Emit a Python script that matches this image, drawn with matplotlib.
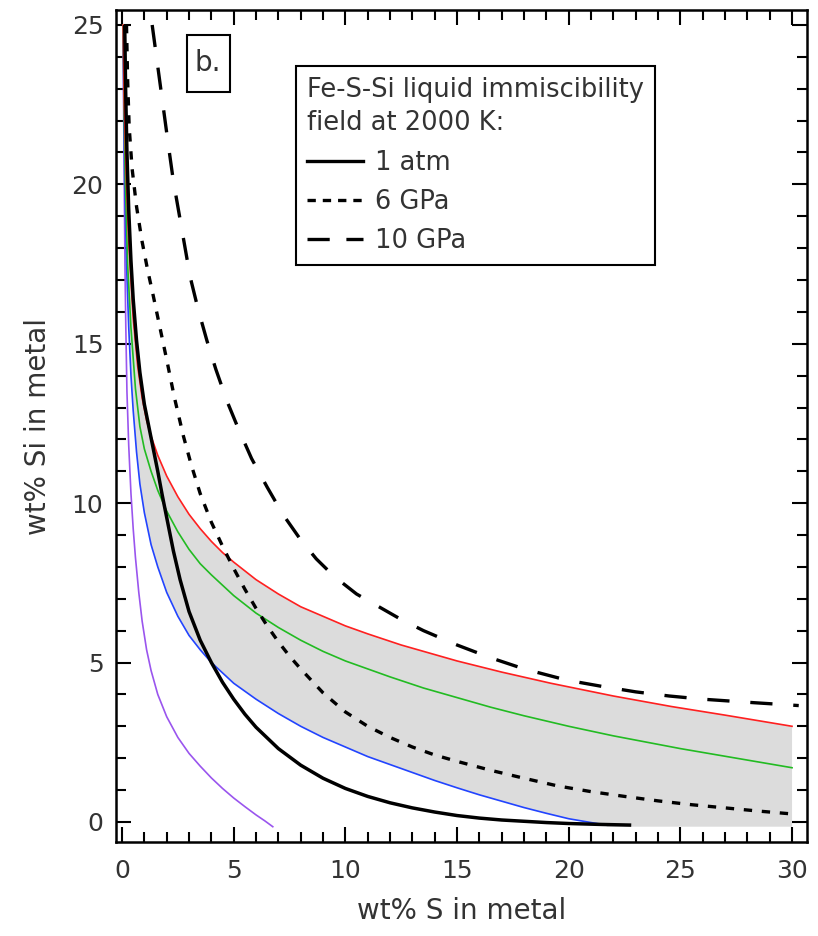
import matplotlib
matplotlib.use("Agg")
import matplotlib.pyplot as plt
from matplotlib.lines import Line2D
from matplotlib.patches import Rectangle
from matplotlib.ticker import MultipleLocator

plt.rcParams['font.family'] = ['DejaVu Sans']
plt.rcParams['lines.scale_dashes'] = False

# ---------------- data ----------------
atm1_x = [0.12, 0.16, 0.22, 0.3, 0.4, 0.5, 0.65, 0.8, 1.0, 1.2, 1.4, 1.6, 1.8, 2.0, 2.3, 2.6, 3.0,
          3.5, 4.0, 4.5, 5.0, 5.5, 6.0, 7.0, 8.0, 9.0, 10.0, 11.0, 12.0, 13.0, 14.0, 15.0, 16.0,
          17.0, 18.0, 19.0, 20.0, 21.5, 22.8]
atm1_y = [25.0, 23.0, 21.0, 19.2, 17.6, 16.4, 15.1, 14.1, 13.1, 12.4, 11.7, 11.0, 10.25, 9.55, 8.5,
          7.6, 6.6, 5.7, 5.0, 4.38, 3.85, 3.38, 2.97, 2.3, 1.78, 1.37, 1.05, 0.8, 0.6, 0.44, 0.31,
          0.2, 0.12, 0.06, 0.02, -0.02, -0.05, -0.08, -0.1]

gpa6_x = [0.2, 0.25, 0.32, 0.45, 0.65, 0.9, 1.15, 1.4, 1.7, 2.0, 2.35, 2.75, 3.1, 3.5, 4.0, 4.5,
          5.0, 5.5, 6.0, 6.5, 7.0, 7.5, 8.0, 9.0, 10.0, 11.0, 12.0, 13.0, 14.0, 15.0, 16.5, 18.0,
          19.5, 21.0, 22.5, 24.0, 25.5, 27.0, 28.5, 30.0]
gpa6_y = [25.0, 23.3, 21.8, 20.5, 19.3, 18.2, 17.3, 16.5, 15.5, 14.5, 13.3, 12.1, 11.2, 10.3, 9.4,
          8.65, 7.95, 7.3, 6.7, 6.15, 5.65, 5.2, 4.8, 4.05, 3.45, 3.0, 2.65, 2.35, 2.1, 1.9, 1.62,
          1.37, 1.13, 0.95, 0.8, 0.66, 0.54, 0.44, 0.34, 0.25]

gpa10_x = [1.35, 1.6, 1.85, 2.1, 2.3, 2.7, 3.05, 3.4, 3.8, 4.2, 4.7, 5.2, 5.8, 6.5, 7.2, 8.0, 8.7,
           9.5, 10.5, 11.5, 12.5, 13.5, 15.0, 16.5, 18.0, 19.9, 21.5, 23.0, 24.5, 26.0, 28.3, 30.3]
gpa10_y = [25.0, 23.7, 22.4, 21.1, 20.1, 18.5, 17.1, 16.1, 15.1, 14.2, 13.2, 12.35, 11.4, 10.5,
           9.65, 8.85, 8.25, 7.7, 7.15, 6.75, 6.35, 6.0, 5.55, 5.15, 4.8, 4.45, 4.25, 4.08, 3.95,
           3.85, 3.74, 3.65]

red_x = [0.05, 0.1, 0.2, 0.3, 0.5, 0.7, 0.9, 1.1, 1.3, 1.6, 2.0, 2.5, 3.0, 3.5, 4.0, 4.5, 5.0,
         6.0, 7.0, 8.0, 9.0, 10.0, 11.0, 12.5, 14.0, 15.0, 17.0, 19.2, 22.0, 24.6, 27.0, 30.0]
red_y = [25.0, 22.5, 20.0, 18.2, 15.8, 14.3, 13.3, 12.6, 12.1, 11.5, 10.85, 10.2, 9.65, 9.2, 8.8,
         8.45, 8.15, 7.6, 7.15, 6.75, 6.45, 6.15, 5.9, 5.55, 5.25, 5.05, 4.7, 4.35, 3.95, 3.62,
         3.35, 3.0]

green_x = [0.05, 0.1, 0.15, 0.25, 0.4, 0.6, 0.8, 1.0, 1.3, 1.6, 2.0, 2.5, 3.0, 3.5, 4.0, 5.0, 6.0,
           7.0, 8.0, 9.0, 10.0, 11.0, 12.0, 13.5, 15.0, 16.5, 18.0, 20.0, 22.0, 25.0, 27.5, 30.0]
green_y = [25.0, 22.0, 20.0, 17.5, 15.5, 13.6, 12.4, 11.7, 11.0, 10.4, 9.75, 9.1, 8.55, 8.1, 7.75,
           7.1, 6.55, 6.1, 5.7, 5.35, 5.05, 4.8, 4.55, 4.2, 3.9, 3.6, 3.33, 3.0, 2.7, 2.3, 2.0, 1.7]

blue_x = [0.05, 0.08, 0.12, 0.2, 0.3, 0.4, 0.5, 0.65, 0.8, 1.0, 1.3, 1.6, 2.0, 2.5, 3.0, 3.5, 4.0,
          5.0, 6.0, 7.0, 8.0, 9.0, 10.0, 11.0, 12.0, 13.0, 14.0, 15.0, 16.0, 17.0, 18.0, 19.0,
          20.0, 21.0, 21.7]
blue_y = [25.0, 22.5, 20.0, 17.5, 15.5, 14.0, 12.9, 11.6, 10.6, 9.7, 8.7, 8.0, 7.2, 6.45, 5.85,
          5.4, 5.0, 4.35, 3.85, 3.4, 3.0, 2.65, 2.35, 2.05, 1.8, 1.55, 1.3, 1.07, 0.85, 0.65, 0.45,
          0.27, 0.1, -0.02, -0.1]

purple_x = [0.05, 0.07, 0.1, 0.13, 0.17, 0.22, 0.3, 0.4, 0.5, 0.6, 0.75, 0.9, 1.1, 1.3, 1.6, 2.0,
            2.5, 3.0, 3.5, 4.0, 4.5, 5.0, 5.5, 6.0, 6.4, 6.75]
purple_y = [25.0, 22.5, 20.0, 17.5, 15.5, 13.5, 11.8, 10.3, 9.2, 8.3, 7.2, 6.3, 5.4, 4.75, 4.0,
            3.3, 2.65, 2.15, 1.75, 1.38, 1.05, 0.75, 0.48, 0.22, 0.03, -0.15]

field_floor = -0.15
field_xmax = 30.0

legend_title = "Fe-S-Si liquid immiscibility\nfield at 2000 K:"
legend_labels = ["1 atm", "6 GPa", "10 GPa"]
panel_label = "b."
xlabel = "wt% S in metal"
ylabel = "wt% Si in metal"

# ---------------- figure ----------------
fig = plt.figure(figsize=(8.18, 9.36), dpi=100)
ax = fig.add_axes([116/818, 1-842/936, (807-116)/818, (842-10)/936])
ax.set_xlim(-0.27, 30.67)
ax.set_ylim(-0.63, 25.47)

# gray immiscibility field between red (upper) and blue (lower) curves
poly_x = list(red_x) + [field_xmax, field_xmax] + [blue_x[-1]] + list(blue_x[::-1])
poly_y = list(red_y) + [red_y[-1], field_floor] + [field_floor] + list(blue_y[::-1])
ax.fill(poly_x, poly_y, color='#dcdcdc', lw=0, zorder=1)

ax.plot(purple_x, purple_y, color='#9a55ee', lw=1.2, zorder=2)
ax.plot(blue_x, blue_y, color='#2244ff', lw=1.2, zorder=2)
ax.plot(green_x, green_y, color='#22bb22', lw=1.2, zorder=2)
ax.plot(red_x, red_y, color='#ff2020', lw=1.2, zorder=2)

ax.plot(atm1_x, atm1_y, color='black', lw=2.5, zorder=4, solid_capstyle='butt',
        solid_joinstyle='round')
ax.plot(gpa6_x, gpa6_y, color='black', lw=2.4, dashes=(6, 7), zorder=4)
ax.plot(gpa10_x, gpa10_y, color='black', lw=2.4, dashes=(16, 15), zorder=4)

# ticks
ax.xaxis.set_major_locator(MultipleLocator(5))
ax.xaxis.set_minor_locator(MultipleLocator(1))
ax.yaxis.set_major_locator(MultipleLocator(5))
ax.yaxis.set_minor_locator(MultipleLocator(1))
ax.tick_params(which='both', direction='in', top=True, right=True, width=1.5, color='black')
ax.tick_params(which='major', length=11, labelsize=18, labelcolor='#333333')
ax.tick_params(which='minor', length=7)
ax.tick_params(axis='x', which='major', pad=12)
ax.tick_params(axis='y', which='major', pad=9)
for s in ax.spines.values():
    s.set_linewidth(1.8)

ax.set_xlabel(xlabel, fontsize=20, color='#333333', labelpad=10)
ax.set_ylabel(ylabel, fontsize=20, color='#333333', labelpad=14)

# legend
handles = [Line2D([], [], color='black', lw=2.4),
           Line2D([], [], color='black', lw=2.4, dashes=(6, 5)),
           Line2D([], [], color='black', lw=2.4, dashes=(16, 12))]
leg = ax.legend(handles, legend_labels, title=legend_title, loc='upper left',
                bbox_to_anchor=((296-116)/691, (842-66)/832), borderaxespad=0,
                fontsize=18.5, title_fontsize=18.5, frameon=True, fancybox=False,
                edgecolor='black', framealpha=1, handlelength=2.2, handletextpad=0.45,
                labelspacing=0.52, borderpad=0.42, alignment='left')
leg.get_frame().set_linewidth(1.5)
leg.get_title().set_color('#333333')
leg.get_title().set_linespacing(1.38)
for t in leg.get_texts():
    t.set_color('#333333')
leg.set_zorder(10)

# panel label box
ax.add_patch(Rectangle(((187-116)/691, (842-92)/832), 43/691, 57/832, transform=ax.transAxes,
                       fill=False, edgecolor='black', lw=1.5, zorder=10))
ax.text((208-116)/691, (842-63)/832, panel_label, transform=ax.transAxes, ha='center',
        va='center', fontsize=20, color='#333333', zorder=11)

fig.savefig('out.png', dpi=100)
